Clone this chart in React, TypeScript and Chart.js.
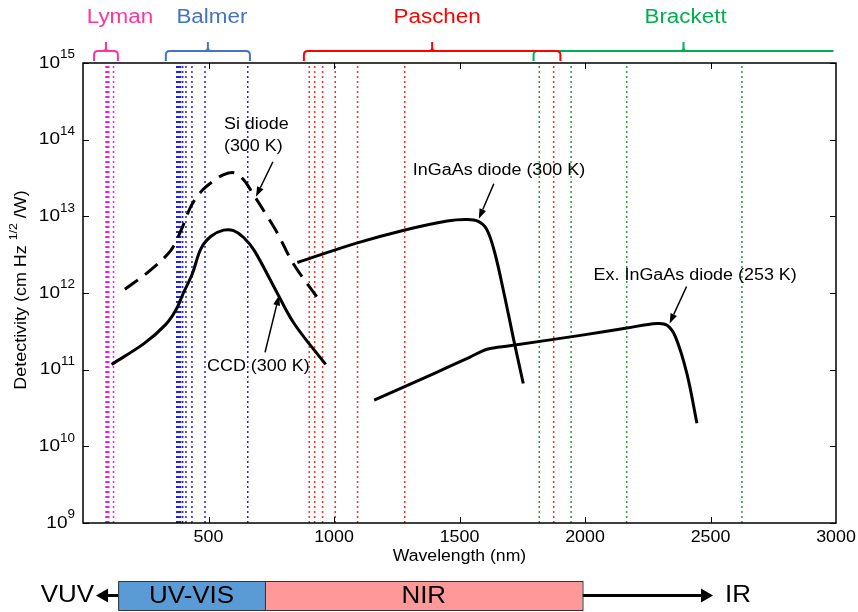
import React, { useEffect, useRef } from "react";
import { Chart, registerables } from "chart.js";

Chart.register(...registerables);

const W = 858;
const H = 612;

// Axis ranges
const X_MIN = 0;
const X_MAX = 3000;
const Y_MIN = 1e9;
const Y_MAX = 1e15;
const xTickValues = [500, 1000, 1500, 2000, 2500, 3000];
const yTickExponents = [9, 10, 11, 12, 13, 14, 15];

// Hydrogen emission lines (nm)
const lymanLines = [121.6, 102.6, 97.3, 95.0, 93.8, 93.1, 92.6];
const balmerLines = [656.3, 486.1, 434.0, 410.2, 397.0, 388.9, 383.5, 379.8, 377.1, 375.0, 373.4];
const paschenLines = [1875.1, 1281.8, 1093.8, 1004.9, 954.6, 922.9, 901.5];
const brackettLines = [2625.2, 2166.1, 1944.6, 1817.9];

// Series names and wavelength spans for the brackets above the plot (nm)
const seriesNames = ["Lyman", "Balmer", "Paschen", "Brackett"];
const seriesSpans: [number, number][] = [
  [44, 139],
  [330, 665],
  [880, 1902],
  [1795, 2990],
];

// Si diode (300 K)
const siWl = [167, 270, 350, 390, 430, 470, 520, 561, 601, 640, 680, 730, 775, 840, 950];
const siD = [1.12e12, 2.0e12, 3.6e12, 6.5e12, 1.35e13, 2.1e13, 2.9e13, 3.5e13, 3.7e13, 3.0e13, 1.9e13, 1.05e13, 6.0e12, 2.35e12, 7.4e11];

// CCD (300 K)
const ccdWl = [114, 244, 330, 370, 400, 436, 470, 510, 560, 600, 640, 682, 761, 841, 967];
const ccdD = [1.17e11, 2.2e11, 3.9e11, 6.0e11, 1.0e12, 1.8e12, 3.8e12, 5.5e12, 6.6e12, 6.5e12, 5.3e12, 3.6e12, 1.2e12, 4.0e11, 1.17e11];

// InGaAs diode (300 K)
const ingaasWl = [854, 1093, 1279, 1451, 1531, 1575, 1608, 1640, 1680, 1716, 1754];
const ingaasD = [2.5e12, 4.5e12, 6.6e12, 8.7e12, 9.1e12, 8.6e12, 6.8e12, 3.4e12, 9.0e11, 2.45e11, 6.6e10];

// Extended InGaAs diode (253 K)
const exWl = [1160, 1398, 1540, 1610, 1700, 1982, 2167, 2287, 2327, 2360, 2406, 2446];
const exD = [4.0e10, 8.9e10, 1.45e11, 1.85e11, 2.05e11, 2.8e11, 3.5e11, 4.0e11, 3.8e11, 2.7e11, 8.9e10, 2.0e10];

// Spectral regions in the strip under the axis (nm)
const bandNames = ["UV-VIS", "NIR"];
const bandSpans: [number, number][] = [
  [140, 725],
  [725, 1990],
];
const vuvArrowTip = 52;
const irArrowTip = 2510;

const FONT = '"Liberation Sans", Arial, Helvetica, sans-serif';
const STRETCH = 1.12;

const lineColors = ["#e61ee6", "#2222d6", "#f02c2c", "#26993a"];
const bracketColors = ["#ff3399", "#4472c4", "#ff0000", "#00b050"];
const bandColors = ["#5b9bd5", "#ff9999"];

function text(
  ctx: CanvasRenderingContext2D,
  s: string,
  x: number,
  y: number,
  size: number,
  color = "#000",
  align: CanvasTextAlign = "left",
  stretch = STRETCH
) {
  ctx.save();
  ctx.font = `${size}px ${FONT}`;
  ctx.fillStyle = color;
  ctx.textAlign = align;
  ctx.textBaseline = "middle";
  ctx.translate(x, y);
  ctx.scale(stretch, 1);
  ctx.fillText(s, 0, 0);
  ctx.restore();
}

function textWidth(ctx: CanvasRenderingContext2D, s: string, size: number, stretch = STRETCH) {
  ctx.save();
  ctx.font = `${size}px ${FONT}`;
  const w = ctx.measureText(s).width * stretch;
  ctx.restore();
  return w;
}

function arrow(
  ctx: CanvasRenderingContext2D,
  x0: number,
  y0: number,
  x1: number,
  y1: number,
  width: number,
  headLen: number,
  headHalf: number
) {
  const a = Math.atan2(y1 - y0, x1 - x0);
  const bx = x1 - headLen * Math.cos(a);
  const by = y1 - headLen * Math.sin(a);
  ctx.save();
  ctx.strokeStyle = "#000";
  ctx.fillStyle = "#000";
  ctx.lineWidth = width;
  ctx.beginPath();
  ctx.moveTo(x0, y0);
  ctx.lineTo(bx, by);
  ctx.stroke();
  ctx.beginPath();
  ctx.moveTo(x1, y1);
  ctx.lineTo(bx + headHalf * Math.sin(a), by - headHalf * Math.cos(a));
  ctx.lineTo(bx - headHalf * Math.sin(a), by + headHalf * Math.cos(a));
  ctx.closePath();
  ctx.fill();
  ctx.restore();
}

// Callouts: arrow tip on the curve (data units), tail offset and text placement in px
const callouts = [
  { lines: ["Si diode", "(300 K)"], tip: [689, 1.8e13], tail: [17, -35], textAt: [-32, -72], lineGap: 22 },
  { lines: ["InGaAs diode (300 K)"], tip: [1577, 9.3e12], tail: [15, -35], textAt: [-66, -48], lineGap: 0 },
  { lines: ["CCD (300 K)"], tip: [781, 9.3e11], tail: [-14, 57], textAt: [-72, 71], lineGap: 0 },
  { lines: ["Ex. InGaAs diode (253 K)"], tip: [2337, 4.0e11], tail: [17, -37], textAt: [-76, -48], lineGap: 0 },
];

const labelShift = [14, 4, 5, 2];

const decor = {
  id: "decor",
  beforeDraw(chart: any) {
    const ctx = chart.ctx as CanvasRenderingContext2D;
    ctx.save();
    ctx.fillStyle = "#fff";
    ctx.fillRect(0, 0, chart.width, chart.height);
    ctx.restore();
  },
  afterDatasetsDraw(chart: any) {
    const ctx = chart.ctx as CanvasRenderingContext2D;
    const xs = chart.scales.x;
    const ys = chart.scales.y;
    const { left, right, top, bottom } = chart.chartArea;

    // frame
    ctx.save();
    ctx.strokeStyle = "#000";
    ctx.lineWidth = 1.5;
    ctx.strokeRect(left, top, right - left, bottom - top);

    // inward ticks
    ctx.lineWidth = 1;
    ctx.beginPath();
    xTickValues.forEach((v) => {
      if (v >= X_MAX) return;
      const px = Math.round(xs.getPixelForValue(v)) + 0.5;
      ctx.moveTo(px, bottom);
      ctx.lineTo(px, bottom - 6);
      ctx.moveTo(px, top);
      ctx.lineTo(px, top + 6);
    });
    yTickExponents.forEach((e) => {
      const py = Math.round(ys.getPixelForValue(Math.pow(10, e))) + 0.5;
      ctx.moveTo(left, py);
      ctx.lineTo(left + 6, py);
      ctx.moveTo(right, py);
      ctx.lineTo(right - 6, py);
    });
    ctx.stroke();
    ctx.restore();

    // x tick labels
    xTickValues.forEach((v) => {
      text(ctx, String(v), xs.getPixelForValue(v), bottom + 14, 17, "#000", "center", 1.05);
    });

    // y tick labels 10^n
    yTickExponents.forEach((e) => {
      const py = ys.getPixelForValue(Math.pow(10, e));
      const ew = textWidth(ctx, String(e), 12);
      const rx = left - 8;
      text(ctx, "10", rx - ew, py, 17, "#000", "right");
      text(ctx, String(e), rx - ew, py - 8, 12, "#000", "left");
    });

    // axis titles
    text(ctx, "Wavelength (nm)", (left + right) / 2, bottom + 34, 16, "#000", "center", 1.1);

    ctx.save();
    ctx.translate(22, (top + bottom) / 2 - 3);
    ctx.rotate(-Math.PI / 2);
    const p1 = "Detectivity (cm Hz ";
    const p2 = "1/2";
    const p3 = " /W)";
    const w1 = textWidth(ctx, p1, 16);
    const w2 = textWidth(ctx, p2, 11);
    const w3 = textWidth(ctx, p3, 16);
    let cx = -(w1 + w2 + w3) / 2;
    text(ctx, p1, cx, 0, 16);
    cx += w1;
    text(ctx, p2, cx, -8, 11);
    cx += w2;
    text(ctx, p3, cx, 0, 16);
    ctx.restore();

    // series brackets (Brackett first, Paschen over it)
    const order = [3, 0, 1, 2];
    order.forEach((i) => {
      const [a, b] = seriesSpans[i];
      const x1 = xs.getPixelForValue(a);
      const x2 = xs.getPixelForValue(b);
      const xm = (x1 + x2) / 2;
      const yl = 51;
      const yEnd = 61;
      const r = 4;
      ctx.save();
      ctx.strokeStyle = bracketColors[i];
      ctx.lineWidth = 2;
      ctx.lineJoin = "round";
      ctx.beginPath();
      ctx.moveTo(x1, yEnd);
      ctx.lineTo(x1, yl + r);
      ctx.quadraticCurveTo(x1, yl, x1 + r, yl);
      if (i === 3) {
        ctx.lineTo(x2, yl);
      } else {
        ctx.lineTo(x2 - r, yl);
        ctx.quadraticCurveTo(x2, yl, x2, yl + r);
        ctx.lineTo(x2, yEnd);
      }
      ctx.stroke();
      ctx.beginPath();
      ctx.moveTo(xm - 3, yl);
      ctx.quadraticCurveTo(xm, yl, xm, yl - 3);
      ctx.lineTo(xm, 42);
      ctx.moveTo(xm + 3, yl);
      ctx.quadraticCurveTo(xm, yl, xm, yl - 3);
      ctx.stroke();
      ctx.restore();
      text(ctx, seriesNames[i], xm + labelShift[i], 17, 20, bracketColors[i], "center");
    });

    // callouts
    callouts.forEach((c) => {
      const tx = xs.getPixelForValue(c.tip[0]);
      const ty = ys.getPixelForValue(c.tip[1]);
      arrow(ctx, tx + c.tail[0], ty + c.tail[1], tx, ty, 1.5, 10, 3.5);
      c.lines.forEach((s, k) => {
        text(ctx, s, tx + c.textAt[0], ty + c.textAt[1] + k * c.lineGap, 16);
      });
    });

    // spectral region strip
    const barTop = 581;
    const barBot = 610;
    const barMid = (barTop + barBot) / 2;
    const bx0 = xs.getPixelForValue(bandSpans[0][0]);
    const bx1 = xs.getPixelForValue(bandSpans[bandSpans.length - 1][1]);
    arrow(ctx, bx0, barMid, xs.getPixelForValue(vuvArrowTip), barMid, 3, 12, 7);
    arrow(ctx, bx1, barMid, xs.getPixelForValue(irArrowTip), barMid, 3, 12, 7);
    bandSpans.forEach(([a, b], i) => {
      const x1 = xs.getPixelForValue(a);
      const x2 = xs.getPixelForValue(b);
      ctx.save();
      ctx.fillStyle = bandColors[i];
      ctx.fillRect(x1, barTop, x2 - x1, barBot - barTop);
      ctx.strokeStyle = "#333";
      ctx.lineWidth = 1;
      ctx.strokeRect(x1 + 0.5, barTop + 0.5, x2 - x1, barBot - barTop);
      ctx.restore();
      text(ctx, bandNames[i], (x1 + x2) / 2, barMid + 1, 24, "#000", "center", 1.08);
    });
    text(ctx, "VUV", xs.getPixelForValue(vuvArrowTip) - 2, barMid, 24, "#000", "right", 1.08);
    text(ctx, "IR", xs.getPixelForValue(irArrowTip) + 12, barMid, 24, "#000", "left", 1.08);
  },
};

function spectralSets(lines: number[], color: string) {
  return lines.map((w) => ({
    data: [
      { x: w, y: Y_MIN },
      { x: w, y: Y_MAX },
    ],
    showLine: true,
    borderColor: color,
    borderWidth: 1.5,
    borderDash: [2, 3],
    pointRadius: 0,
    order: 1,
  }));
}

function curveSet(wl: number[], d: number[], dashed: boolean) {
  return {
    data: wl.map((x, i) => ({ x, y: d[i] })),
    showLine: true,
    borderColor: "#000",
    borderWidth: 3,
    borderDash: dashed ? [16, 9] : [],
    pointRadius: 0,
    tension: 0.35,
    borderCapStyle: "butt" as const,
    borderJoinStyle: "round" as const,
    order: 0,
  };
}

export default function App() {
  const ref = useRef<HTMLCanvasElement>(null);

  useEffect(() => {
    const canvas = ref.current;
    if (!canvas) return;
    const datasets: any[] = [
      ...spectralSets(lymanLines, lineColors[0]),
      ...spectralSets(balmerLines, lineColors[1]),
      ...spectralSets(paschenLines, lineColors[2]),
      ...spectralSets(brackettLines, lineColors[3]),
      curveSet(siWl, siD, true),
      curveSet(ccdWl, ccdD, false),
      curveSet(ingaasWl, ingaasD, false),
      curveSet(exWl, exD, false),
    ];
    const chart = new Chart(canvas, {
      type: "scatter",
      data: { datasets },
      options: {
        animation: false,
        responsive: false,
        devicePixelRatio: 1,
        events: [],
        layout: { padding: { left: 83, right: 22, top: 63, bottom: 89 } },
        plugins: { legend: { display: false }, tooltip: { enabled: false } },
        elements: { point: { radius: 0 } },
        scales: {
          x: { type: "linear", min: X_MIN, max: X_MAX, display: false },
          y: { type: "logarithmic", min: Y_MIN, max: Y_MAX, display: false },
        },
      },
      plugins: [decor],
    });
    return () => chart.destroy();
  }, []);

  return (
    <div style={{ position: "absolute", left: 0, top: 0, width: W, height: H, background: "#fff" }}>
      <canvas ref={ref} width={W} height={H} style={{ display: "block", width: W, height: H }} />
    </div>
  );
}
